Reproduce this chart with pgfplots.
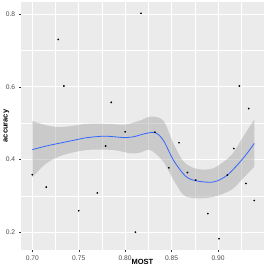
\documentclass[border=0pt]{standalone}
\usepackage{pgfplots}
\pgfplotsset{compat=1.18}
\usepgfplotslibrary{fillbetween}
\usetikzlibrary{calc}
\usepackage{fontspec}
\setmainfont{Liberation Sans}
\definecolor{panel}{HTML}{EBEBEB}
\definecolor{smoothc}{HTML}{3366FF}
\definecolor{tickc}{HTML}{4D4D4D}
\definecolor{ribbon}{HTML}{999999}
\begin{document}
\begin{tikzpicture}
\begin{axis}[
  scale only axis, width=243.3pt, height=248pt,
  xmin=0.6875, xmax=0.9495, ymin=0.151, ymax=0.833,
  axis background/.style={fill=panel},
  axis line style={draw=none},
  xtick={0.70,0.75,0.80,0.85,0.90}, ytick={0.2,0.4,0.6,0.8},
  minor xtick={0.725,0.775,0.825,0.875,0.925}, minor ytick={0.3,0.5,0.7},
  grid=both,
  major grid style={white, line width=0.9pt},
  minor grid style={white, line width=0.45pt},
  tick align=outside, major tick length=2pt, minor tick length=0pt,
  tick style={color=black!80, line width=0.4pt},
  xtick pos=bottom, ytick pos=left,
  /pgf/number format/assume math mode=true,
  xticklabel style={/pgf/number format/fixed, /pgf/number format/fixed zerofill, /pgf/number format/precision=2},
  yticklabel style={/pgf/number format/fixed, /pgf/number format/fixed zerofill, /pgf/number format/precision=1},
  ticklabel style={font=\fontsize{6.7}{7}\selectfont, text=tickc},
  xlabel={MOST}, ylabel={accuracy},
  label style={font=\fontsize{7.5}{8}\selectfont\bfseries},
  xlabel style={at={(axis description cs:0.5,0)}, anchor=base, yshift=-14pt},
  ylabel style={at={(axis description cs:-0.0534,0.5)}, anchor=base},
  clip=true,
]
\addplot[name path=up, draw=none, smooth, forget plot] coordinates {
(0.700,0.506) (0.715,0.494) (0.730,0.489) (0.745,0.493) (0.759,0.498) (0.780,0.498)
(0.800,0.496) (0.815,0.506) (0.828,0.518) (0.841,0.507) (0.852,0.444) (0.863,0.394)
(0.877,0.374) (0.895,0.376) (0.914,0.411) (0.927,0.462) (0.939,0.510)};
\addplot[name path=lo, draw=none, smooth, forget plot] coordinates {
(0.700,0.351) (0.715,0.389) (0.733,0.412) (0.759,0.426) (0.787,0.426) (0.805,0.417)
(0.815,0.418) (0.827,0.426) (0.841,0.394) (0.852,0.344) (0.863,0.302) (0.877,0.293)
(0.895,0.297) (0.914,0.316) (0.927,0.348) (0.939,0.380)};
\addplot[fill=ribbon, fill opacity=0.4, draw=none] fill between[of=up and lo];
\addplot[only marks, mark=*, mark size=0.65pt, black] coordinates {
(0.700,0.358) (0.715,0.324) (0.728,0.730) (0.734,0.602) (0.750,0.259) (0.770,0.308)
(0.779,0.437) (0.785,0.557) (0.800,0.476) (0.811,0.200) (0.817,0.802) (0.832,0.475)
(0.847,0.377) (0.858,0.446) (0.867,0.364) (0.876,0.343) (0.889,0.251) (0.901,0.182)
(0.910,0.357) (0.917,0.430) (0.923,0.602) (0.930,0.334) (0.933,0.540) (0.939,0.287)};
\addplot[smoothc, line width=0.8pt, smooth] coordinates {
(0.700,0.427) (0.715,0.437) (0.730,0.445) (0.745,0.453) (0.759,0.460) (0.777,0.464)
(0.790,0.462) (0.800,0.460) (0.810,0.463) (0.820,0.470) (0.832,0.474) (0.841,0.453)
(0.852,0.398) (0.865,0.354) (0.877,0.341) (0.895,0.338) (0.910,0.357) (0.927,0.403)
(0.939,0.444)};
\end{axis}
\pgfresetboundingbox
\path[use as bounding box] ($(current axis.south west)+(-20.7pt,-16pt)$) rectangle ($(current axis.north east)+(2pt,2pt)$);
\end{tikzpicture}
\end{document}
